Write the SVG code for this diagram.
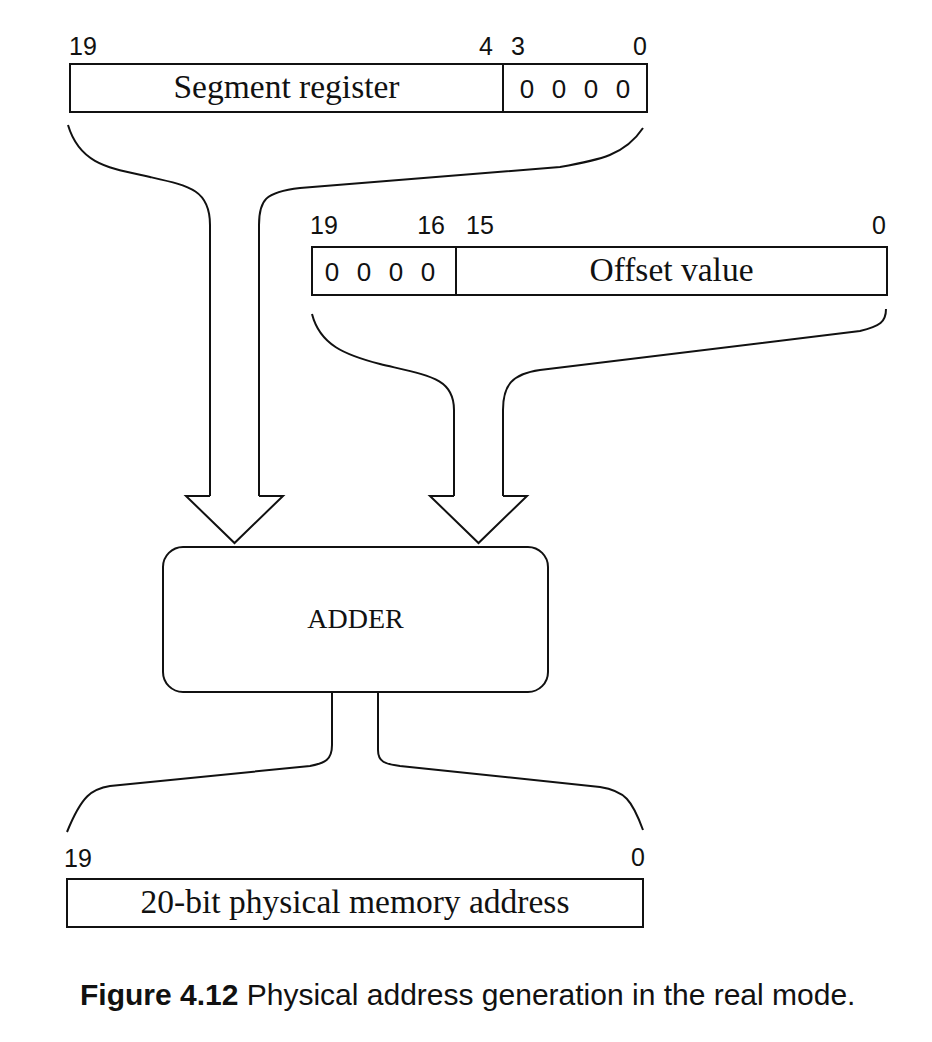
<svg xmlns="http://www.w3.org/2000/svg" width="932" height="1042" viewBox="0 0 932 1042">
<style>
.box{fill:#fff;stroke:#111;stroke-width:2}
.ln{fill:none;stroke:#111;stroke-width:2;stroke-linejoin:round}
.arr{fill:#fff;stroke:#111;stroke-width:2;stroke-linejoin:miter}
.num{font-family:"Liberation Sans",Arial,sans-serif;font-size:25px;fill:#111}
.zero{font-family:"Liberation Sans",Arial,sans-serif;font-size:26px;fill:#111;word-spacing:10.3px}
.lbl{font-family:"Liberation Serif","Times New Roman",serif;font-size:33.5px;fill:#111}
.add{font-family:"Liberation Serif","Times New Roman",serif;font-size:28px;fill:#111}
.cap{font-family:"Liberation Sans",Arial,sans-serif;font-size:30px;fill:#111}
</style>
<rect width="932" height="1042" fill="#fff"/>
<g id="segment">
<rect class="box" x="70" y="64" width="577" height="48"/>
<line class="ln" x1="503" y1="64" x2="503" y2="112"/>
<text class="lbl" x="286.5" y="98" text-anchor="middle">Segment register</text>
<text class="zero" x="575" y="98" text-anchor="middle">0 0 0 0</text>
<text class="num" x="69" y="55">19</text>
<text class="num" x="493" y="55" text-anchor="end">4</text>
<text class="num" x="511" y="55">3</text>
<text class="num" x="647" y="55" text-anchor="end">0</text>
</g>
<g id="offset">
<rect class="box" x="312" y="247" width="575" height="48"/>
<line class="ln" x1="456" y1="247" x2="456" y2="295"/>
<text class="lbl" x="671.5" y="281" text-anchor="middle">Offset value</text>
<text class="zero" x="380" y="281" text-anchor="middle">0 0 0 0</text>
<text class="num" x="310" y="234">19</text>
<text class="num" x="445" y="234" text-anchor="end">16</text>
<text class="num" x="466" y="234">15</text>
<text class="num" x="886" y="234" text-anchor="end">0</text>
</g>
<g id="adder">
<rect class="box" x="163" y="547" width="385" height="145" rx="20" ry="20"/>
<text class="add" x="355.5" y="628" text-anchor="middle">ADDER</text>
</g>
<g id="physical">
<rect class="box" x="67" y="879" width="576" height="48"/>
<text class="lbl" x="355" y="913" text-anchor="middle">20-bit physical memory address</text>
<text class="num" x="64" y="867">19</text>
<text class="num" x="645" y="866" text-anchor="end">0</text>
</g>
<g id="connectors">
<path class="ln" d="M68,125 C80,165 110,168 150,177 C190,186 210,190 210,225 L210,496"/>
<path class="ln" d="M643,128 C625,155 600,160 560,167 L300,188 C265,192 259,200 259,225 L259,496"/>
<path class="arr" d="M210,496 L186,496 L234.5,543 L283,496 L259,496"/>
<path class="ln" d="M312,314 C320,345 345,355 380,364 C430,376 454,378 454,410 L454,496"/>
<path class="ln" d="M886,309 C886,322 880,326 860,331 L540,370 C512,374 503,385 503,410 L503,496"/>
<path class="arr" d="M454,496 L430,496 L478.5,543 L527,496 L503,496"/>
<path class="ln" d="M332,692 L332,745 C332,760 325,763 310,766 L110,786 C92,789 82,795 67,832"/>
<path class="ln" d="M378,692 L378,750 C378,762 385,764 400,766 L600,787 C625,791 632,800 643,830"/>
</g>
<text class="cap" x="80" y="1005"><tspan font-weight="bold">Figure 4.12</tspan> Physical address generation in the real mode.</text>
</svg>
